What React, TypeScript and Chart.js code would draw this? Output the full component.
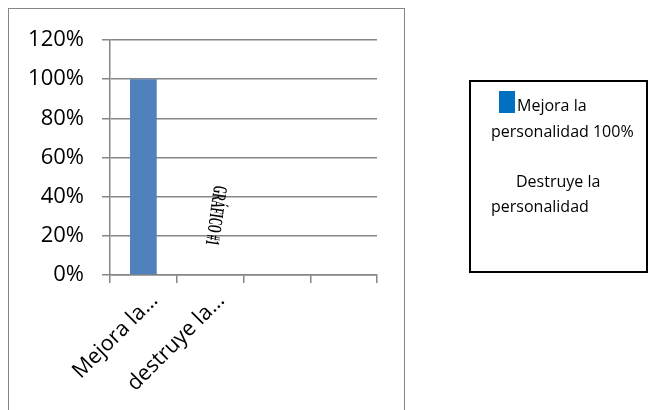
import React, { useEffect, useRef } from "react";
import { Chart, registerables } from "chart.js";

Chart.register(...registerables);

const categories = ["Mejora la…", "destruye la…", "", ""];
const values = [100, 0, null, null];
const yTicks = [0, 20, 40, 60, 80, 100, 120];
const watermark = "GRÁFICO #1";
const legendLines = [
  { text: "Mejora la", swatch: true },
  { text: "personalidad 100%", swatch: false },
  { text: "Destruye la", swatch: false },
  { text: "personalidad", swatch: false },
];

const FONT = "'Open Sans', 'Noto Sans', sans-serif";
const GREY = "#868686";

const watermarkPlugin = {
  id: "watermark",
  afterDatasetsDraw(chart: any) {
    const { ctx, scales } = chart;
    const x = scales.x.getPixelForValue(1) + 5;
    const y = scales.y.getPixelForValue(30.5);
    ctx.save();
    ctx.translate(x, y);
    ctx.rotate(Math.PI / 2 + 0.14);
    ctx.scale(0.5, 1);
    ctx.font = "bold 20px 'Liberation Serif', serif";
    ctx.fillStyle = "#000";
    ctx.textAlign = "center";
    ctx.textBaseline = "middle";
    ctx.fillText(watermark, 0, 0);
    ctx.restore();
  },
};

export default function App() {
  const ref = useRef<HTMLCanvasElement>(null);
  useEffect(() => {
    if (!ref.current) return;
    const chart = new Chart(ref.current, {
      type: "bar",
      data: {
        labels: categories,
        datasets: [
          {
            data: values as any,
            backgroundColor: "#4F81BD",
            barPercentage: 0.4,
            categoryPercentage: 1,
          },
        ],
      },
      options: {
        animation: false,
        responsive: false,
        layout: { padding: { left: 8, top: 40, right: 278, bottom: 0 } },
        plugins: { legend: { display: false }, tooltip: { enabled: false } },
        scales: {
          x: {
            afterFit(scale: any) {
              scale.height = 135;
            },
            grid: {
              display: true,
              drawOnChartArea: false,
              drawTicks: true,
              tickLength: 8,
              offset: true,
              color: GREY,
              lineWidth: 1.5,
            },
            border: { color: GREY, width: 1.5 },
            ticks: {
              autoSkip: false,
              maxRotation: 45,
              minRotation: 45,
              color: "#000",
              font: { family: FONT, size: 21.5 },
              padding: 5,
              labelOffset: 11,
            },
          },
          y: {
            min: 0,
            max: 120,
            afterFit(scale: any) {
              scale.width = 102;
            },
            afterBuildTicks(scale: any) {
              scale.ticks = yTicks.map((v) => ({ value: v }));
            },
            grid: {
              color: GREY,
              lineWidth: 1.5,
              drawTicks: true,
              tickLength: 8,
            },
            border: { color: GREY, width: 1.5 },
            ticks: {
              stepSize: 20,
              color: "#000",
              font: { family: FONT, size: 22 },
              padding: 18,
              callback: (v: any) => v + "%",
            },
          },
        },
      },
      plugins: [watermarkPlugin],
    });
    return () => chart.destroy();
  }, []);

  const linePos = [
    { left: 517, top: 94 },
    { left: 491, top: 120 },
    { left: 516, top: 170 },
    { left: 491, top: 195 },
  ];

  return (
    <div
      style={{
        position: "fixed",
        left: 0,
        top: 0,
        width: 655,
        height: 410,
        overflow: "hidden",
        background: "#fff",
      }}
    >
      <div
        style={{
          position: "absolute",
          left: 8,
          top: 8,
          width: 397,
          height: 420,
          border: `1px solid ${GREY}`,
          boxSizing: "border-box",
        }}
      />
      <canvas
        ref={ref}
        width={655}
        height={410}
        style={{ position: "absolute", left: 0, top: 0, width: 655, height: 410 }}
      />
      <div
        style={{
          position: "absolute",
          left: 469,
          top: 80,
          width: 179,
          height: 193,
          border: "2px solid #000",
          boxSizing: "border-box",
        }}
      />
      <div
        style={{
          position: "absolute",
          left: 499,
          top: 91,
          width: 16,
          height: 22,
          background: "#0070C0",
        }}
      />
      {legendLines.map((l, i) => (
        <div
          key={i}
          style={{
            position: "absolute",
            left: linePos[i].left,
            top: linePos[i].top,
            fontFamily: FONT,
            fontSize: 16,
            lineHeight: "22px",
            color: "#000",
            whiteSpace: "nowrap",
          }}
        >
          {l.text}
        </div>
      ))}
    </div>
  );
}
